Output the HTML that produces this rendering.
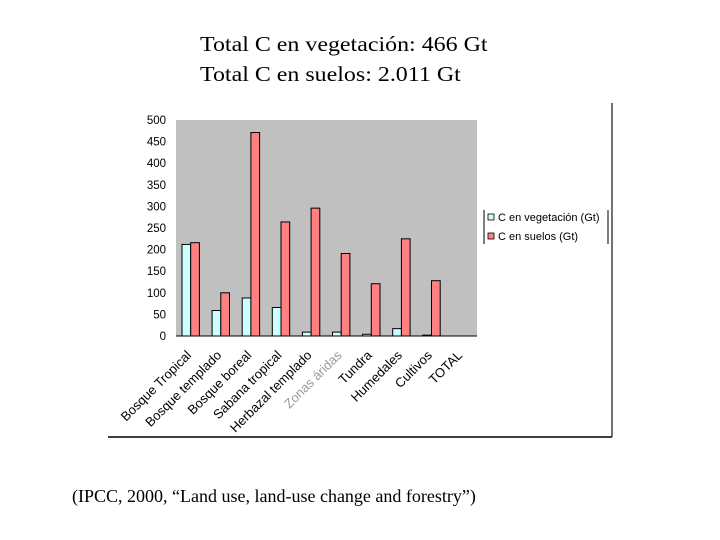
<!DOCTYPE html>
<html><head><meta charset="utf-8"><style>
body{margin:0;width:720px;height:540px;background:#fff;overflow:hidden;position:relative;font-family:"Liberation Serif",serif}
.t{position:absolute;font-size:21px;color:#000;white-space:nowrap}
</style></head><body>
<div class="t" style="left:200px;top:32px;transform:scaleX(1.14);transform-origin:left">Total C en vegetación: 466 Gt</div>
<div class="t" style="left:200px;top:62px;transform:scaleX(1.14);transform-origin:left">Total C en suelos: 2.011 Gt</div>
<div class="t" style="left:72px;top:486px;font-size:18px">(IPCC, 2000, “Land use, land-use change and forestry”)</div>
<svg id="chart" width="720" height="540" style="position:absolute;left:0;top:0" font-family="Liberation Sans, sans-serif"></svg>
<script>
const categories=["Bosque Tropical","Bosque templado","Bosque boreal","Sabana tropical","Herbazal templado","Zonas áridas","Tundra","Humedales","Cultivos","TOTAL"];
const vegValues=[212,59,88,66,9,9,4,17,2,0];
const soilValues=[216,100,471,264,296,191,121,225,128,0];
const yTicks=[0,50,100,150,200,250,300,350,400,450,500];
const NS="http://www.w3.org/2000/svg";
const svg=document.getElementById('chart');
const X0=176,X1=477,Y0=336,Y1=120;
const y=v=>Y0-(v/500)*(Y0-Y1);
const bw=(X1-X0)/categories.length;
const x=i=>X0+i*bw;
function mk(t,a){const e=document.createElementNS(NS,t);for(const k in a)e.setAttribute(k,a[k]);svg.appendChild(e);return e;}
let e=mk('line',{x1:108,y1:437,x2:612,y2:437,stroke:'#000','stroke-width':1.5});

e=mk('line',{x1:612,y1:103,x2:612,y2:437,stroke:'#444','stroke-width':1.5});

e=mk('rect',{x:X0,y:Y1,width:X1-X0,height:Y0-Y1,fill:'#c0c0c0'});

e=mk('line',{x1:X0,y1:Y0,x2:X1,y2:Y0,stroke:'#000'});

yTicks.forEach(v=>{const t=mk('text',{x:166,y:y(v)+4,'text-anchor':'end','font-size':11.5});t.textContent=v;
});
categories.forEach((c,i)=>{
 const b=x(i)+6, w=8.7;
 let r=mk('rect',{x:b,y:y(vegValues[i]),width:w,height:Y0-y(vegValues[i]),fill:'#ccffff',stroke:'#000','stroke-width':1});
 
 r=mk('rect',{x:b+w,y:y(soilValues[i]),width:w,height:Y0-y(soilValues[i]),fill:'#ff8080',stroke:'#000','stroke-width':1});
 
 const lx=x(i)+bw-14, ly=Y0+20;
 const t=mk('text',{x:lx,y:ly,'text-anchor':'end','font-size':13,fill:i==5?'#999':'#000',transform:`rotate(-45 ${lx} ${ly})`});
 t.textContent=c;
});
e=mk('line',{x1:484,y1:210,x2:484,y2:244,stroke:'#000'});

e=mk('line',{x1:608,y1:210,x2:608,y2:244,stroke:'#000'});

e=mk('rect',{x:488,y:214,width:6,height:6,fill:'#ccffff',stroke:'#000','stroke-width':0.8});

e=mk('text',{x:498,y:221,'font-size':11});e.textContent='C en vegetación (Gt)';

e=mk('rect',{x:488,y:233,width:6,height:6,fill:'#ff8080',stroke:'#000','stroke-width':0.8});

e=mk('text',{x:498,y:240,'font-size':11});e.textContent='C en suelos (Gt)';

</script>
</body></html>
